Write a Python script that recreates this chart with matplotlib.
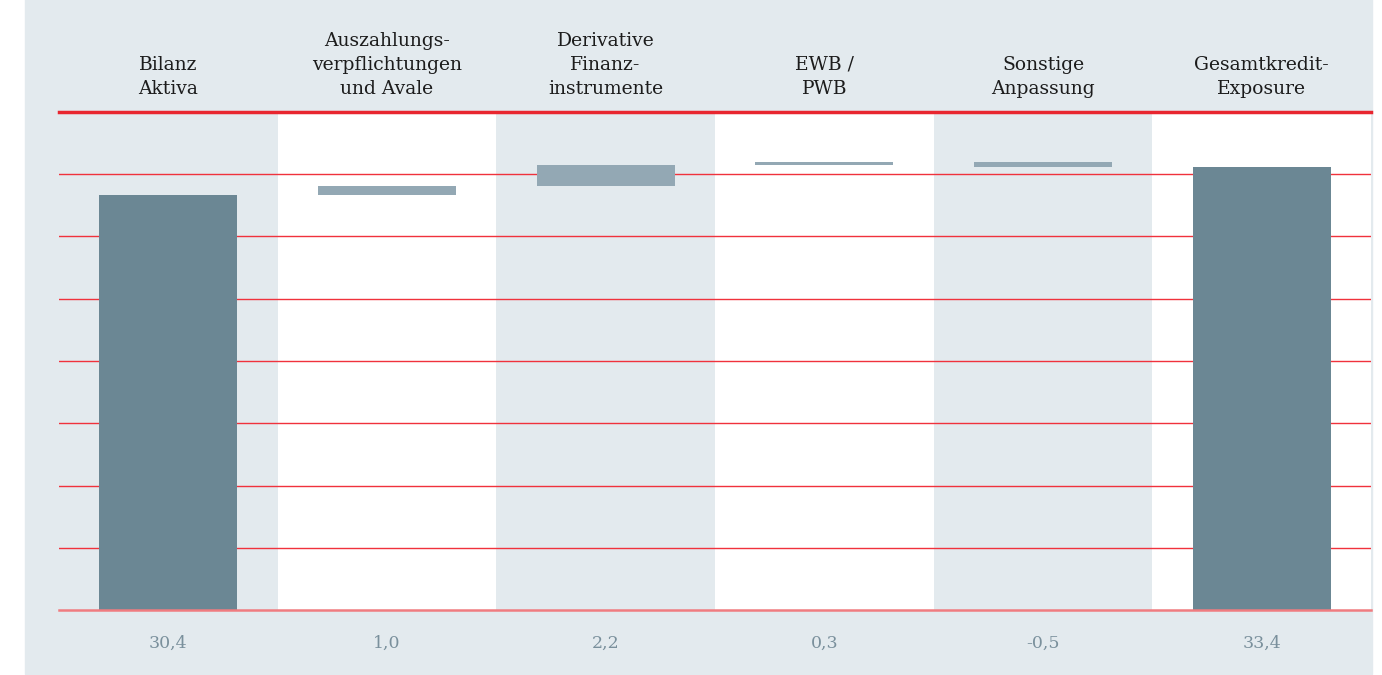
import numpy as np
import matplotlib.pyplot as plt
from matplotlib.patches import Rectangle

# Daten (Mrd. EUR)
labels = ["Bilanz\nAktiva", "Auszahlungs-\nverpflichtungen\nund Avale",
          "Derivative\nFinanz-\ninstrumente", "EWB /\nPWB",
          "Sonstige\nAnpassung", "Gesamtkredit-\nExposure"]
values = [30.4, 1.0, 2.2, 0.3, -0.5, 33.4]
is_total = [True, False, False, False, False, True]

# Achsenbereich wie im Original (Achse beginnt nicht bei 0)
y_min, y_max = -14.2, 39.3

panel = '#e3eaee'
c_total = '#6b8794'
c_step = '#93a8b4'
red = '#f0323c'

plt.rcParams['font.family'] = ['DejaVu Serif']

fig = plt.figure(figsize=(13.82, 6.75), dpi=100)
fig.add_artist(Rectangle((25 / 1382, 1 / 675), (1372 - 25) / 1382, 1,
                         transform=fig.transFigure, color=panel, zorder=0))

ax = fig.add_axes([59 / 1382, 1 - 610 / 675, (1371 - 59) / 1382, (610 - 112) / 675])
ax.set_facecolor(panel)
n = len(values)
ax.set_xlim(-0.5, n - 0.5)
ax.set_ylim(y_min, y_max)

# weiße Spalten
for i in range(1, n, 2):
    ax.axvspan(i - 0.5, i + 0.5, color='white', lw=0, zorder=0)

# Rasterlinien
grid = np.linspace(y_min, y_max, 9)
for k, g in enumerate(grid):
    if k == 0:
        ax.axhline(g, color='#f07c80', lw=1.8, zorder=3, clip_on=False)
    elif k == len(grid) - 1:
        ax.axhline(g, color='#e8262f', lw=2.5, zorder=1, clip_on=False)
    else:
        ax.axhline(g, color=red, lw=1.0, zorder=1)

# Wasserfall
running = 0
for i, (v, tot) in enumerate(zip(values, is_total)):
    if tot:
        ax.bar(i, v - y_min, bottom=y_min, width=0.63, color=c_total, zorder=2)
        running = v
    else:
        ax.bar(i, v, bottom=running, width=0.63, color=c_step, zorder=2)
        running += v

# Beschriftungen
for i, (lab, v) in enumerate(zip(labels, values)):
    ax.annotate(lab, xy=(i, 1), xycoords=('data', 'axes fraction'),
                xytext=(0, 10), textcoords='offset points',
                ha='center', va='bottom', fontsize=13.5, linespacing=1.45,
                color='#1c1c1c')
    ax.annotate(f"{v:.1f}".replace('.', ','), xy=(i, 0),
                xycoords=('data', 'axes fraction'),
                xytext=(0, -24), textcoords='offset points',
                ha='center', va='center', fontsize=12.5, color='#7a909c')

ax.set_xticks([])
ax.set_yticks([])
for s in ax.spines.values():
    s.set_visible(False)

fig.savefig('out.png', dpi=100)
